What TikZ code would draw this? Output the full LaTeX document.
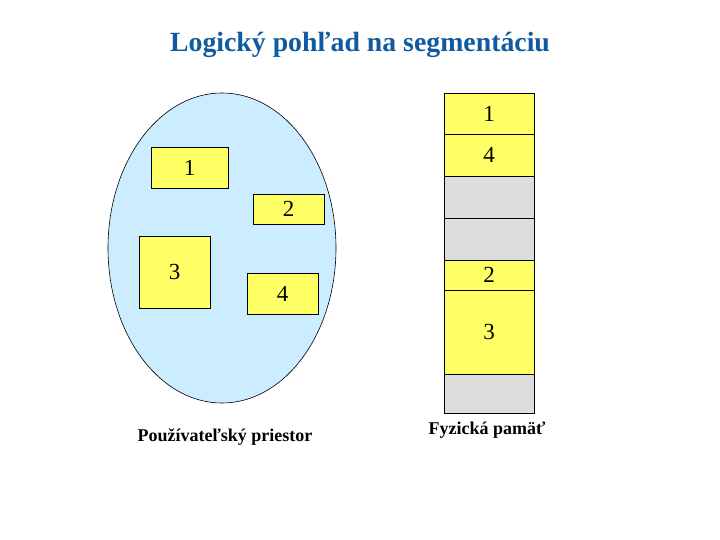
\documentclass[tikz,border=0pt]{standalone}
\usepackage{fontspec}
\setmainfont{Liberation Serif}
\usetikzlibrary{shapes.geometric, positioning}
\definecolor{mytitle}{RGB}{16,90,160}
\definecolor{myblue}{RGB}{204,236,255}
\definecolor{myyellow}{RGB}{255,255,102}
\definecolor{mygray}{RGB}{221,221,221}
\tikzset{
  seg/.style={rectangle, draw=black, fill=myyellow, inner sep=0pt, outer sep=0pt,
    font=\fontsize{23}{23}\selectfont, line width=0.6pt},
  cell/.style={seg, minimum width=90pt},
  freecell/.style={cell, fill=mygray},
  caption/.style={font=\fontsize{18}{18}\selectfont\bfseries}
}

\begin{document}
\begin{tikzpicture}[x=1pt, y=-1pt]
  \useasboundingbox (0,0) rectangle (720,540);

  % Title
  \node[font=\fontsize{27.8}{28}\selectfont\bfseries, text=mytitle] (title) at (360,45) {Logický pohľad na segmentáciu};

  % User space
  \node[ellipse, draw=black, fill=myblue, line width=0.6pt, minimum width=228pt, minimum height=310pt, inner sep=0pt] (space) at (222,248) {};
  \node[seg, minimum width=77pt, minimum height=41pt] (u1) at (189.5,167.5) {1};
  \node[seg, minimum width=71pt, minimum height=30pt] (u2) at (288.5,209) {2};
  \node[seg, minimum width=71pt, minimum height=72pt] (u3) at (174.5,272) {3};
  \node[seg, minimum width=71pt, minimum height=41pt] (u4) at (282.5,293.5) {4};
  \node[caption] (ulabel) at (225,437) {Používateľský priestor};

  % Physical memory
  \node[cell, minimum height=41pt, anchor=north] (m1) at (489,93) {1};
  \node[cell, minimum height=42pt, below=0pt of m1] (m4) {4};
  \node[freecell, minimum height=42pt, below=0pt of m4] (f1) {};
  \node[freecell, minimum height=42pt, below=0pt of f1] (f2) {};
  \node[cell, minimum height=30pt, below=0pt of f2] (m2) {2};
  \node[cell, minimum height=84pt, below=0pt of m2] (m3) {3};
  \node[freecell, minimum height=39pt, below=0pt of m3] (f3) {};
  \node[caption] (plabel) at (487,430) {Fyzická pamäť};
\end{tikzpicture}
\end{document}
